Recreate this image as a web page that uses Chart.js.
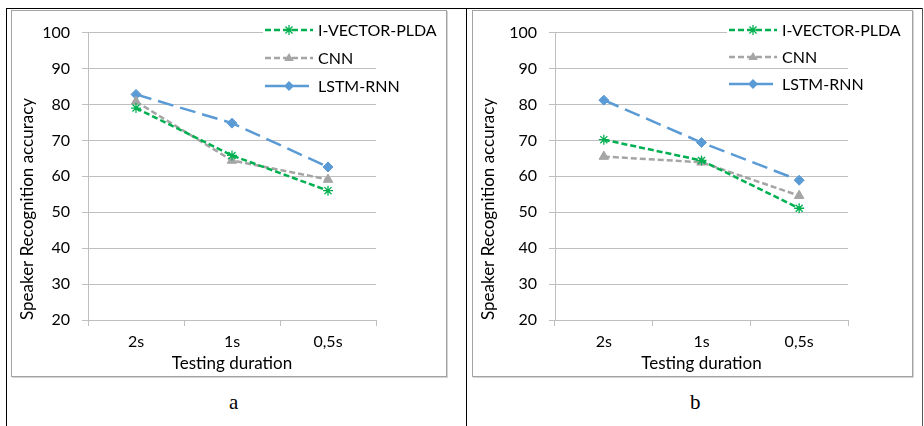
<!DOCTYPE html>
<html lang="en">
<head>
  <meta charset="UTF-8">
  <title>Speaker Recognition accuracy</title>
  <script src="https://cdn.jsdelivr.net/npm/chart.js"></script>
  <style>
    body {
      margin: 0;
      width: 924px;
      height: 426px;
      background: #ffffff;
      position: relative;
      overflow: hidden;
      font-family: "Lato", sans-serif;
    }
    .rule { position: absolute; background: #000; }
    .frame {
      position: absolute;
      box-sizing: border-box;
      border: 1px solid #a3a3a3;
      box-shadow: 1px 1px 0 #d4d4d4;
    }
    canvas { position: absolute; }
    .caption {
      position: absolute;
      font-family: "Liberation Serif", serif;
      font-size: 21px;
      color: #000;
    }
  </style>
</head>
<body>
  <!-- table lines around the two figures -->
  <div class="rule" style="left:6px; top:8px; width:917px; height:1px;"></div>
  <div class="rule" style="left:6px; top:8px; width:1px; height:418px;"></div>
  <div class="rule" style="left:466px; top:8px; width:1px; height:418px;"></div>
  <div class="rule" style="left:922px; top:8px; width:1px; height:418px; background:#555;"></div>

  <div class="frame" style="left:11px; top:10px; width:436px; height:367px;"></div>
  <canvas id="chartA" style="left:12px; top:11px;" width="434" height="365"></canvas>

  <div class="frame" style="left:472px; top:10px; width:441px; height:367px;"></div>
  <canvas id="chartB" style="left:473px; top:11px;" width="439" height="365"></canvas>

  <div class="caption" style="left:229px; top:390px;">a</div>
  <div class="caption" style="left:690px; top:390px;">b</div>

  <script>
    // categories (testing duration)
    const durations = ['2s', '1s', '0,5s'];
    const seriesNames = ['I-VECTOR-PLDA', 'CNN', 'LSTM-RNN'];

    // panel a
    const ivectorA = [79.0, 65.8, 56.0];
    const cnnA = [80.8, 64.4, 59.1];
    const lstmA = [82.8, 74.8, 62.6];

    // panel b
    const ivectorB = [70.2, 64.4, 51.1];
    const cnnB = [65.5, 63.9, 54.6];
    const lstmB = [81.2, 69.4, 58.9];

    // y axis
    const yMin = 20;
    const yMax = 100;
    const yStep = 10;

    const GREEN = '#00b050';
    const GRAY = '#a5a5a5';
    const BLUE = '#5b9bd5';
    const GRID = '#bfbfbf';
    const FONT = { family: 'Lato', size: 16 };
    const TITLE_FONT = { family: 'Lato', size: 17 };

    const styles = [
      { color: GREEN, dash: [6, 3], marker: 'star', radius: 5 },
      { color: GRAY, dash: [6, 3], marker: 'triangle', radius: 5.5 },
      { color: BLUE, dash: [16, 7], marker: 'rectRot', radius: 5 }
    ];

    // small marker painter for the legend
    function drawMarker(ctx, kind, x, y, r, color) {
      ctx.save();
      ctx.fillStyle = color;
      ctx.strokeStyle = color;
      ctx.setLineDash([]);
      ctx.lineWidth = 1.3;
      ctx.beginPath();
      if (kind === 'star') {
        for (let i = 0; i < 4; i++) {
          const a = i * Math.PI / 4;
          ctx.moveTo(x - Math.cos(a) * r, y - Math.sin(a) * r);
          ctx.lineTo(x + Math.cos(a) * r, y + Math.sin(a) * r);
        }
        ctx.stroke();
      } else if (kind === 'triangle') {
        ctx.moveTo(x, y - r);
        ctx.lineTo(x + r * 0.95, y + r * 0.6);
        ctx.lineTo(x - r * 0.95, y + r * 0.6);
        ctx.closePath();
        ctx.fill();
      } else {
        ctx.moveTo(x, y - r);
        ctx.lineTo(x + r, y);
        ctx.lineTo(x, y + r);
        ctx.lineTo(x - r, y);
        ctx.closePath();
        ctx.fill();
      }
      ctx.restore();
    }

    // legend drawn inside the plot, top right, like the original
    const innerLegend = {
      id: 'innerLegend',
      afterDraw(chart, args, opts) {
        const ctx = chart.ctx;
        const x0 = opts.x;
        ctx.save();
        // white box hides the top gridline behind the first entry
        ctx.fillStyle = '#fff';
        ctx.fillRect(x0 - 2, opts.ys[0] - 9, chart.chartArea.right - x0 + 3, 14);
        seriesNames.forEach((name, i) => {
          const s = styles[i];
          const y = opts.ys[i];
          ctx.strokeStyle = s.color;
          ctx.lineWidth = 2.5;
          ctx.setLineDash(s.dash[0] > 10 ? [20, 4] : [6, 3]);
          ctx.beginPath();
          ctx.moveTo(x0, y);
          ctx.lineTo(x0 + 48, y);
          ctx.stroke();
          drawMarker(ctx, s.marker, x0 + 24, y, 5, s.color);
          ctx.fillStyle = '#000';
          ctx.font = '16px Lato';
          ctx.textBaseline = 'middle';
          ctx.textAlign = 'left';
          ctx.fillText(name, x0 + 53, y + 1);
        });
        ctx.restore();
      }
    };

    function makeChart(id, values, plotLeft, padRight, legendX, legendYs) {
      const datasets = values.map((v, i) => ({
        label: seriesNames[i],
        data: v,
        borderColor: styles[i].color,
        backgroundColor: styles[i].color,
        borderWidth: 2.5,
        borderDash: styles[i].dash,
        pointStyle: styles[i].marker,
        pointRadius: styles[i].radius,
        pointBorderWidth: styles[i].marker === 'star' ? 1.3 : 1,
        pointBorderColor: styles[i].color,
        pointBackgroundColor: styles[i].color,
        tension: 0
      }));

      return new Chart(document.getElementById(id), {
        type: 'line',
        data: { labels: durations, datasets: datasets },
        plugins: [innerLegend],
        options: {
          responsive: false,
          animation: false,
          layout: { padding: { left: 0, right: padRight, top: 16, bottom: 0 } },
          plugins: {
            legend: { display: false },
            tooltip: { enabled: false },
            innerLegend: { x: legendX, ys: legendYs }
          },
          scales: {
            x: {
              offset: true,
              grid: { offset: true, drawOnChartArea: false, color: GRID, tickLength: 6 },
              border: { color: GRID },
              ticks: { color: '#000', font: FONT, padding: 6 },
              title: { display: true, text: 'Testing duration', color: '#000', font: TITLE_FONT, padding: { top: 0, bottom: 2 } },
              afterFit(scale) { scale.height = 56; }
            },
            y: {
              min: yMin,
              max: yMax,
              ticks: { stepSize: yStep, color: '#000', font: FONT, padding: 12 },
              grid: { color: GRID, tickLength: 6 },
              border: { color: GRID },
              title: { display: true, text: 'Speaker Recognition accuracy', color: '#000', font: TITLE_FONT, align: 'start', padding: { top: 5, bottom: 0 } },
              afterFit(scale) { scale.width = plotLeft; }
            }
          }
        }
      });
    }

    makeChart('chartA', [ivectorA, cnnA, lstmA], 76, 70, 253, [19, 47, 75]);
    makeChart('chartB', [ivectorB, cnnB, lstmB], 82, 64, 256, [19, 46, 73]);
  </script>
</body>
</html>
